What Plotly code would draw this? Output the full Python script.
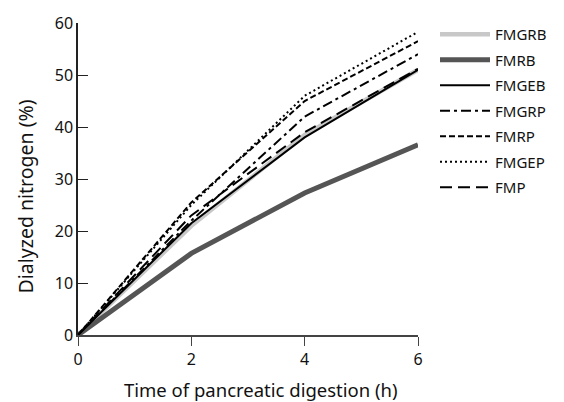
import plotly.graph_objects as go

hours = [0, 2, 4, 6]
x_ticks = [0, 2, 4, 6]
y_ticks = [0, 10, 20, 30, 40, 50, 60]

series_names = ["FMGRB", "FMRB", "FMGEB", "FMGRP", "FMRP", "FMGEP", "FMP"]
fmgrb = [0, 21.0, 38.5, 51.0]
fmrb = [0, 15.7, 27.3, 36.6]
fmgeb = [0, 21.5, 38.0, 51.0]
fmgrp = [0, 22.0, 42.0, 54.0]
fmrp = [0, 25.5, 45.0, 56.5]
fmgep = [0, 25.0, 46.0, 58.3]
fmp = [0, 23.0, 39.0, 51.2]

x_title = "Time of pancreatic digestion (h)"
y_title = "Dialyzed nitrogen (%)"

values = [fmgrb, fmrb, fmgeb, fmgrp, fmrp, fmgep, fmp]
styles = [
    dict(color="#c8c8c8", width=4.5, dash="solid"),
    dict(color="#555555", width=5, dash="solid"),
    dict(color="#000000", width=2, dash="solid"),
    dict(color="#000000", width=2, dash="10px,4px,3px,4px"),
    dict(color="#000000", width=2, dash="6px,3px"),
    dict(color="#000000", width=2, dash="2px,3px"),
    dict(color="#000000", width=2, dash="12px,6px"),
]

FONT = "Noto Sans"
fig = go.Figure()
for name, vals, st in zip(series_names, values, styles):
    fig.add_trace(go.Scatter(x=hours, y=vals, mode="lines", name=name,
                             legendgroup=name, line=st, cliponaxis=False))

fig.update_layout(
    width=564, height=402,
    margin=dict(l=78, r=132, t=18, b=67),
    paper_bgcolor="white", plot_bgcolor="white",
    font=dict(family=FONT, size=15, color="#111111"),
    showlegend=True,
    legend=dict(x=1.05, xanchor="left", y=1.016, yanchor="top",
                font=dict(family=FONT, size=15, color="#111111"),
                itemwidth=50, tracegroupgap=3, traceorder="grouped",
                bgcolor="rgba(0,0,0,0)"),
    xaxis=dict(range=[0, 6], tickvals=x_ticks, ticks="outside", ticklen=9,
               tickcolor="#444444", showline=True, linecolor="#444444", linewidth=1.5,
               showgrid=False, zeroline=False, tickfont=dict(size=16)),
    yaxis=dict(range=[0, 60], tickvals=y_ticks, ticks="inside", ticklen=10,
               tickcolor="#222222", showline=True, linecolor="#222222", linewidth=1.5,
               showgrid=False, zeroline=False, tickfont=dict(size=16)),
    annotations=[
        dict(text=x_title, xref="paper", yref="paper", x=0.5395, y=-0.1735,
             xanchor="center", yanchor="middle", showarrow=False,
             font=dict(family=FONT, size=18.5, color="#111111")),
        dict(text=y_title, xref="paper", yref="paper", x=-0.155, y=0.445,
             xanchor="center", yanchor="middle", showarrow=False, textangle=-90,
             font=dict(family=FONT, size=19.5, color="#111111")),
    ],
)

fig.write_html("out.html")
